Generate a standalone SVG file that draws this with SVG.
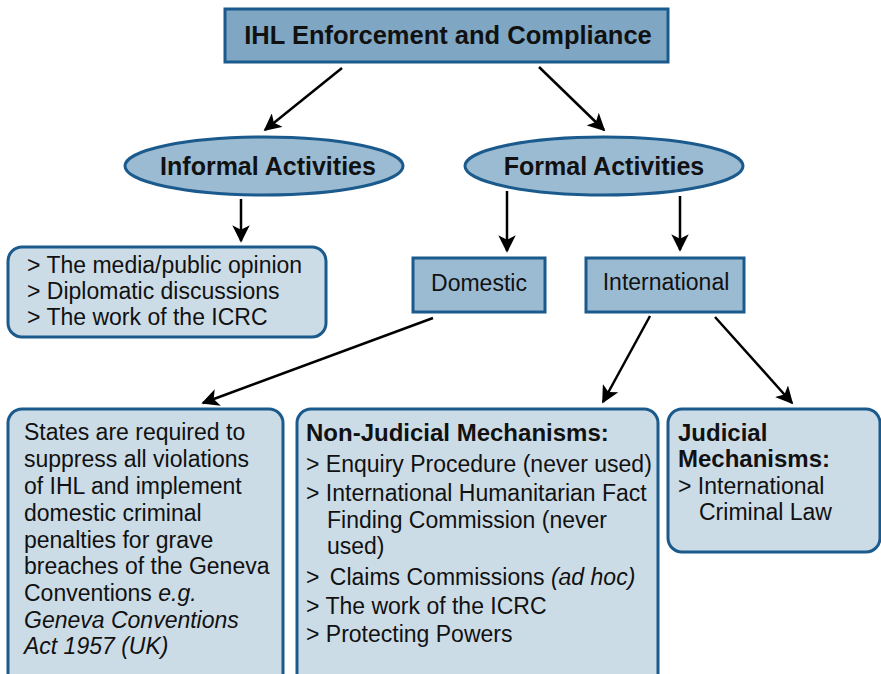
<svg xmlns="http://www.w3.org/2000/svg" width="881" height="674" viewBox="0 0 881 674">
<style>
text{font-family:"Liberation Sans",Arial,Helvetica,sans-serif;fill:#111;}
.b{font-weight:bold;}
.t{font-size:23px;}
.h{font-size:24px;font-weight:bold;}
.dk{fill:#7fa7c4;stroke:#1b5a8c;stroke-width:3;}
.md{fill:#9bbbd2;stroke:#1b5a8c;stroke-width:3;}
.lt{fill:#ccdce7;stroke:#1b5a8c;stroke-width:3;}
.c line{stroke:#000;stroke-width:2.5;marker-end:url(#ah);}
</style>
<defs>
<marker id="ah" viewBox="0 0 10 10" refX="9" refY="5" markerWidth="7" markerHeight="7" markerUnits="strokeWidth" orient="auto">
<path d="M0,0 L10,5 L0,10 L2.5,5 Z" fill="#000"/>
</marker>
</defs>
<g class="c" id="connectors">
<line x1="342" y1="68" x2="265" y2="130"/>
<line x1="539" y1="67" x2="604" y2="130"/>
<line x1="241" y1="199" x2="241" y2="241"/>
<line x1="507" y1="191" x2="507" y2="251"/>
<line x1="680" y1="196" x2="680" y2="250"/>
<line x1="433" y1="318" x2="203" y2="403"/>
<line x1="650" y1="316" x2="603" y2="402"/>
<line x1="715" y1="317" x2="792" y2="403"/>
</g>
<g id="title">
<rect class="dk" x="225" y="9" width="443" height="53"/>
<text class="b" x="448" y="44" font-size="25.5" text-anchor="middle">IHL Enforcement and Compliance</text>
</g>
<g id="informal">
<ellipse class="md" cx="264" cy="166" rx="139" ry="29"/>
<text class="b" x="268" y="175" font-size="25" text-anchor="middle">Informal Activities</text>
</g>
<g id="formal">
<ellipse class="md" cx="604" cy="166" rx="139" ry="29"/>
<text class="b" x="604" y="175" font-size="25" text-anchor="middle">Formal Activities</text>
</g>
<g id="informal-list">
<rect class="lt" x="8" y="247" width="318" height="90" rx="14"/>
<text class="t" x="27" y="273">&gt; The media/public opinion</text>
<text class="t" x="27" y="299">&gt; Diplomatic discussions</text>
<text class="t" x="27" y="325">&gt; The work of the ICRC</text>
</g>
<g id="domestic">
<rect class="md" x="413" y="258" width="132" height="54"/>
<text class="t" x="479" y="291" text-anchor="middle">Domestic</text>
</g>
<g id="international">
<rect class="md" x="586" y="258" width="158" height="54"/>
<text class="t" x="666" y="290" text-anchor="middle">International</text>
</g>
<g id="domestic-detail">
<rect class="lt" x="8" y="409" width="275" height="280" rx="14"/>
<text class="t" x="24" y="440">States are required to</text>
<text class="t" x="24" y="467">suppress all violations</text>
<text class="t" x="24" y="494">of IHL and implement</text>
<text class="t" x="24" y="521">domestic criminal</text>
<text class="t" x="24" y="548">penalties for grave</text>
<text class="t" x="24" y="574">breaches of the Geneva</text>
<text class="t" x="24" y="601">Conventions <tspan font-style="italic">e.g.</tspan></text>
<text class="t" x="24" y="628" font-style="italic">Geneva Conventions</text>
<text class="t" x="24" y="654" font-style="italic">Act 1957 (UK)</text>
</g>
<g id="non-judicial">
<rect class="lt" x="297" y="409" width="361" height="280" rx="14"/>
<text class="h" x="306" y="441">Non-Judicial Mechanisms:</text>
<text class="t" x="306" y="472">&gt; Enquiry Procedure (never used)</text>
<text class="t" x="306" y="501">&gt; International Humanitarian Fact</text>
<text class="t" x="327" y="528">Finding Commission (never</text>
<text class="t" x="327" y="554">used)</text>
<text class="t" x="306" y="585">&gt; <tspan dx="4">Claims Commissions </tspan><tspan font-style="italic">(ad hoc)</tspan></text>
<text class="t" x="306" y="614">&gt; The work of the ICRC</text>
<text class="t" x="306" y="642">&gt; Protecting Powers</text>
</g>
<g id="judicial">
<rect class="lt" x="668" y="409" width="212" height="143" rx="14"/>
<text class="h" x="678" y="441">Judicial</text>
<text class="h" x="678" y="467">Mechanisms:</text>
<text class="t" x="678" y="494">&gt; International</text>
<text class="t" x="699" y="520">Criminal Law</text>
</g>
</svg>
